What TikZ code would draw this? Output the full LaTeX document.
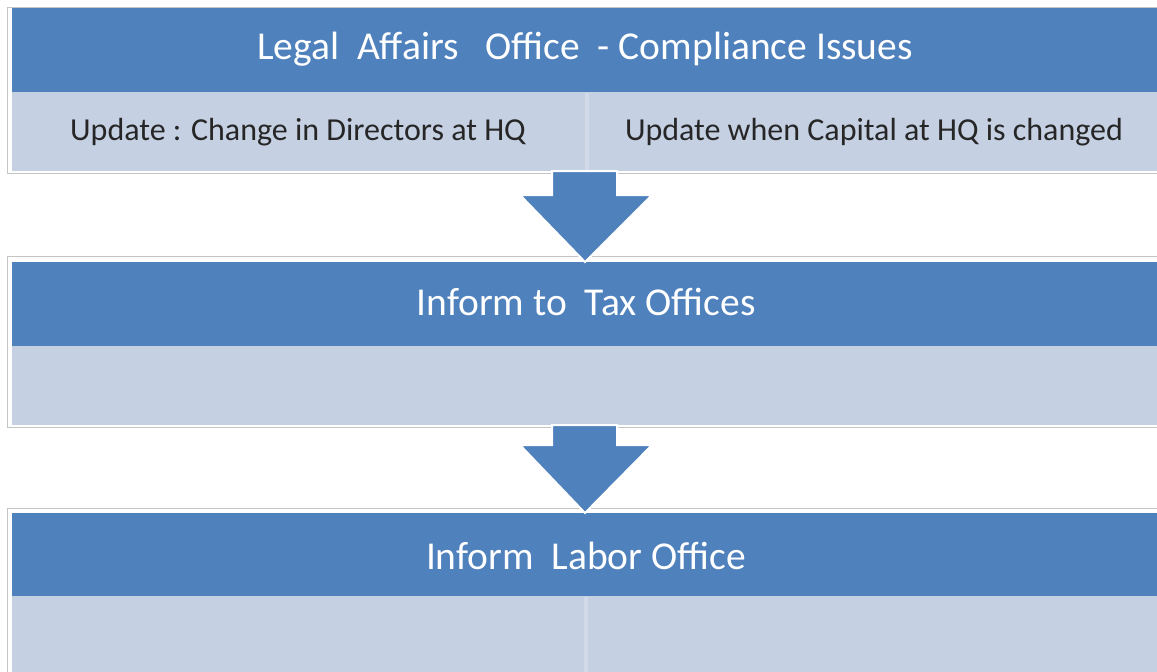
\documentclass[tikz,border=0pt]{standalone}
\usepackage{fontspec}
\setmainfont{Carlito}
\usetikzlibrary{calc}
\definecolor{hdrblue}{HTML}{4F81BD}
\definecolor{bodyblue}{HTML}{C5D0E3}
\definecolor{divblue}{HTML}{D2DAEA}
\definecolor{framegray}{HTML}{C4C4C4}
\tikzset{
  frame/.style={draw=framegray, line width=1pt, fill=white},
  hdr/.style={fill=hdrblue, inner sep=0pt, anchor=north west},
  hdrtext/.style={text=white, font=\fontsize{39.5}{46}\selectfont},
  bodybox/.style={fill=bodyblue, inner sep=0pt, anchor=north west},
  divider/.style={draw=divblue, line width=4pt},
  bodytext/.style={text=black!85, font=\fontsize{32}{38}\selectfont},
  downarrow/.style={fill=hdrblue, draw=white, line width=2pt, line join=miter}
}
\begin{document}
\begin{tikzpicture}[x=1pt,y=-1pt]
\useasboundingbox (0,0) rectangle (1157,672);
\fill[white] (0,0) rectangle (1157,672);
% Section 1
\draw[frame] (7,7) rectangle (1162,173);
\node[bodybox, minimum width=1150pt, minimum height=79pt] (b1) at (12,92) {};
\draw[divider] (587,93) -- (587,170);
\node[hdr, minimum width=1150pt, minimum height=84pt] (h1) at (12,8) {};
\node[hdrtext] (t1) at (585,49) {Legal\ \ Affairs\ \ \ Office\ \ - Compliance Issues};
\node[bodytext] (u1) at (298,132) {Update : Change in Directors at HQ};
\node[bodytext] (u2) at (874,132) {Update when Capital at HQ is changed};
% Section 2
\draw[frame] (7,256) rectangle (1162,427);
\node[bodybox, minimum width=1150pt, minimum height=79pt] (b2) at (12,346) {};
\node[hdr, minimum width=1150pt, minimum height=84pt] (h2) at (12,262) {};
\node[hdrtext] (t2) at (586,302) {Inform to\ \ Tax Offices};
% Section 3
\draw[frame] (7,508) rectangle (1162,680);
\node[bodybox, minimum width=1150pt, minimum height=80pt] (b3) at (12,596) {};
\draw[divider] (586,597) -- (586,672);
\node[hdr, minimum width=1150pt, minimum height=83pt] (h3) at (12,513) {};
\node[hdrtext] (t3) at (586,556) {Inform\ \ Labor Office};
% Arrows
\coordinate (a1top) at (585,173);
\coordinate (a1tip) at (h2.north -| a1top);
\draw[downarrow] ($(a1top)+(-33,-2)$) -- ($(a1top)+(32,-2)$) -- ($(a1top)+(32,22)$) -- ($(a1top)+(67,22)$) -- (a1tip) -- ($(a1top)+(-65,22)$) -- ($(a1top)+(-33,22)$) -- cycle;
\coordinate (a2top) at (585,427);
\coordinate (a2tip) at (h3.north -| a2top);
\draw[downarrow] ($(a2top)+(-33,-2)$) -- ($(a2top)+(32,-2)$) -- ($(a2top)+(32,18)$) -- ($(a2top)+(67,18)$) -- (a2tip) -- ($(a2top)+(-65,18)$) -- ($(a2top)+(-33,18)$) -- cycle;
\end{tikzpicture}
\end{document}
